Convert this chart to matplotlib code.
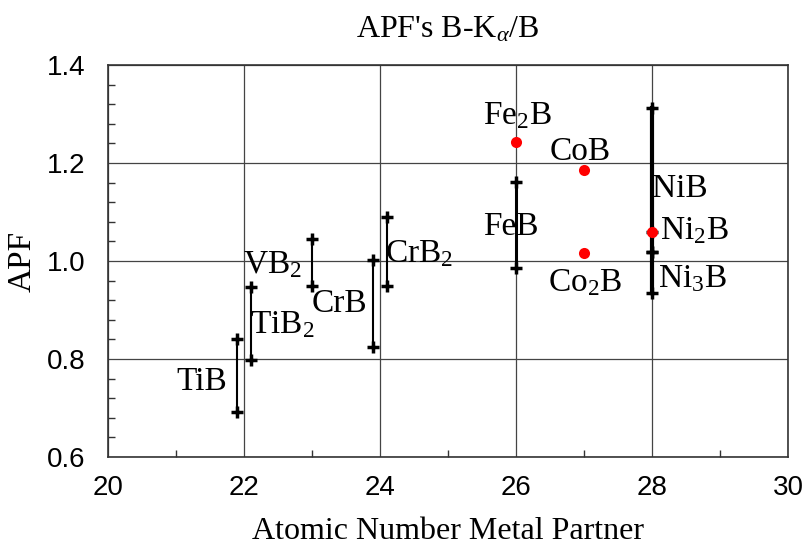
import matplotlib.pyplot as plt
from matplotlib.ticker import MultipleLocator

plt.rcParams['mathtext.fontset'] = 'custom'
plt.rcParams['mathtext.rm'] = 'Liberation Serif'
plt.rcParams['mathtext.it'] = 'Liberation Serif:italic'

# range bars: atomic number, low APF, high APF
bar_z = [21.9, 22.1, 23.0, 23.9, 24.1, 26.0, 28.0, 28.0]
bar_lo = [0.692, 0.798, 0.949, 0.824, 0.949, 0.986, 1.018, 0.935]
bar_hi = [0.841, 0.947, 1.045, 1.002, 1.090, 1.161, 1.312, 1.018]
bar_lw = [1.5, 1.5, 1.5, 1.5, 1.5, 2.2, 3.0, 3.0]

# single values (red dots)
dot_z = [26.0, 27.0, 27.0, 28.0]
dot_apf = [1.243, 1.186, 1.016, 1.059]

names = ['TiB', 'TiB$_2$', 'VB$_2$', 'CrB', 'CrB$_2$', 'Fe$_2$B', 'CoB',
         'FeB', 'Co$_2$B', 'NiB', 'Ni$_2$B', 'Ni$_3$B']
name_xy = [(21.0, 0.737), (22.09, 0.853), (21.99, 0.976), (22.99, 0.896),
           (24.07, 0.998), (25.51, 1.280), (26.5, 1.206), (25.51, 1.053),
           (26.47, 0.939), (28.0, 1.131), (28.12, 1.045), (28.09, 0.947)]

fig = plt.figure(figsize=(8.05, 5.47), dpi=100)
ax = fig.add_axes([108 / 805, 90 / 547, 680 / 805, 392 / 547])

ax.grid(True, which='major', color='#444444', lw=0.9)
ax.set_axisbelow(True)

for z, lo, hi, lw in zip(bar_z, bar_lo, bar_hi, bar_lw):
    ax.plot([z, z], [lo, hi], color='black', lw=lw, zorder=3)
    ax.plot([z, z], [lo, hi], ls='none', marker='+', ms=9, mew=2.5,
            color='black', zorder=4)
# Ni2B also carries a cross under its dot
ax.plot(dot_z[3], dot_apf[3], marker='+', ms=9, mew=2.5, color='black', zorder=4)

ax.plot(dot_z, dot_apf, ls='none', marker='o', ms=8, color='#ff0000',
        markeredgewidth=0, zorder=5)

for name, (x, y) in zip(names, name_xy):
    ax.text(x, y, name, fontsize=24, family='Liberation Serif',
            ha='left', va='baseline', zorder=6)

ax.set_xlim(20, 30)
ax.set_ylim(0.6, 1.4)
ax.xaxis.set_major_locator(MultipleLocator(2))
ax.xaxis.set_minor_locator(MultipleLocator(1))
ax.yaxis.set_major_locator(MultipleLocator(0.2))
ax.yaxis.set_minor_locator(MultipleLocator(0.04))
ax.yaxis.set_major_formatter(plt.FormatStrFormatter('%.1f'))
ax.tick_params(which='both', direction='in', labelsize=20)
ax.tick_params(axis='x', pad=13)
ax.tick_params(axis='y', pad=16)
ax.tick_params(which='major', length=0)
ax.tick_params(which='minor', length=5, width=1, color='#333333')
for lab in ax.get_xticklabels() + ax.get_yticklabels():
    lab.set_family('Liberation Sans')
for sp in ax.spines.values():
    sp.set_color('#333333')
    sp.set_linewidth(1.2)

ax.set_title("APF's B-K$_{\\alpha}$/B", fontsize=23, family='Liberation Serif', pad=20)
xl = ax.set_xlabel('Atomic Number Metal Partner', fontsize=23, family='Liberation Serif')
xl.set_va('baseline')
ax.xaxis.set_label_coords(0.5, -0.209)
ax.set_ylabel('APF', fontsize=24, family='Liberation Serif')
ax.yaxis.set_label_coords(-0.104, 0.5)

fig.savefig('out.png', dpi=100)
